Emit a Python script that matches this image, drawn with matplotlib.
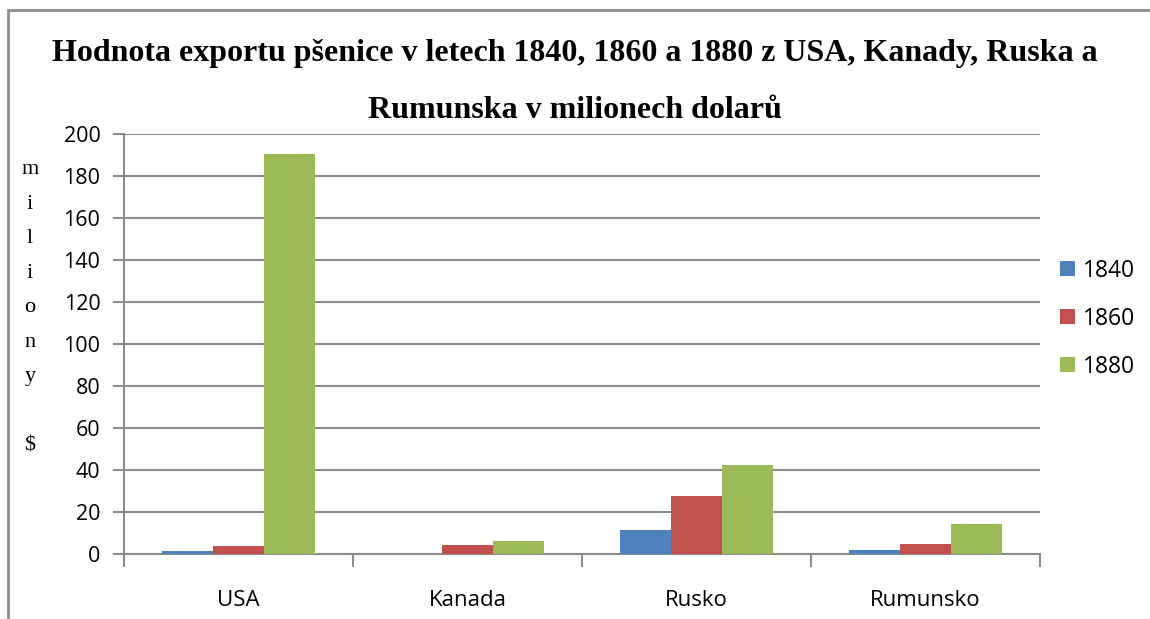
import matplotlib
matplotlib.use("Agg")
import matplotlib.pyplot as plt
import numpy as np
from matplotlib.patches import Rectangle

categories = ["USA", "Kanada", "Rusko", "Rumunsko"]
years = ["1840", "1860", "1880"]
v1840 = [1.5, 0, 11.5, 2]
v1860 = [4, 4.5, 27.7, 5]
v1880 = [190.5, 6, 42.5, 14.5]
colors = ["#4F81BD", "#C0504D", "#9BBB59"]
yticks = [0, 20, 40, 60, 80, 100, 120, 140, 160, 180, 200]

W, H = 1150, 619
fig = plt.figure(figsize=(W / 100, H / 100), dpi=100)
fig.patch.set_facecolor("white")

# outer chart border
fig.add_artist(Rectangle((8 / W, -0.05), 1.1, 1 - 10 / H + 0.05, transform=fig.transFigure,
                         fill=False, edgecolor="#8c8c8c", linewidth=2))

ax = fig.add_axes([124 / W, 1 - 554 / H, (1040 - 124) / W, (554 - 134) / H])
x = np.arange(len(categories))
bw = 0.223
for i, (vals, c) in enumerate(zip([v1840, v1860, v1880], colors)):
    ax.bar(x + (i - 1) * bw, vals, width=bw, color=c, label=years[i], zorder=3)

ax.set_xlim(-0.5, len(categories) - 0.5)
ax.set_ylim(0, 200)
ax.set_yticks(yticks)
ax.set_yticklabels([str(t) for t in yticks], fontsize=15.5, family="Open Sans")
ax.set_xticks(x)
ax.set_xticklabels(categories, fontsize=16, family="Open Sans")
ax.tick_params(axis="x", length=0, pad=26)
ax.set_xticks(np.arange(-0.5, len(categories)), minor=True)
ax.tick_params(axis="x", which="minor", length=9, width=1.5, color="#8c8c8c", direction="out")
ax.tick_params(axis="y", length=8, width=1.5, color="#8c8c8c", direction="out", pad=9)
ax.grid(axis="y", color="#8c8c8c", linewidth=1.5, zorder=0)
for s in ["top", "right"]:
    ax.spines[s].set_visible(False)
for s in ["left", "bottom"]:
    ax.spines[s].set_color("#8c8c8c")
    ax.spines[s].set_linewidth(1.5)

fig.text(0.5, 1 - 53 / H, "Hodnota exportu pšenice v letech 1840, 1860 a 1880 z USA, Kanady, Ruska a",
         ha="center", va="center", fontsize=23, fontweight="bold", family="Liberation Serif")
fig.text(0.5, 1 - 111 / H, "Rumunska v milionech dolarů",
         ha="center", va="center", fontsize=23, fontweight="bold", family="Liberation Serif")

ylabel_chars = ["m", "i", "l", "i", "o", "n", "y", "", "$"]
for k, ch in enumerate(ylabel_chars):
    fig.text(30 / W, 1 - (170 + k * 34.5) / H, ch, ha="center", va="center",
             fontsize=16, family="Liberation Serif")

leg = ax.legend(loc="center left", bbox_to_anchor=(0.999, 0.56), frameon=False,
                prop={"family": "Open Sans", "size": 16.5}, handlelength=0.65, handleheight=0.65,
                labelspacing=1.05, handletextpad=0.35)

fig.savefig("out.png", dpi=100)
